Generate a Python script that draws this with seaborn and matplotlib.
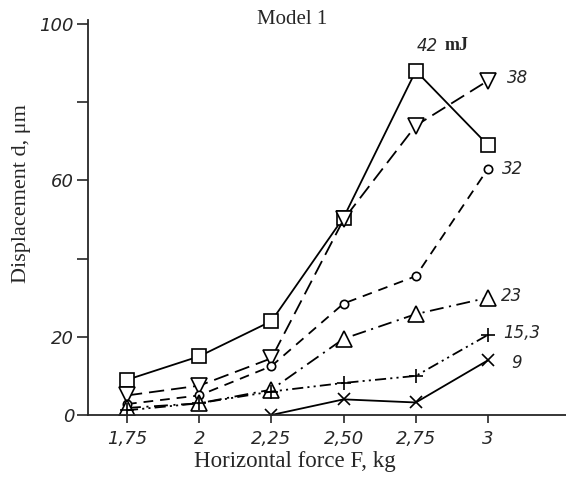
import matplotlib
matplotlib.use("Agg")
import matplotlib.pyplot as plt
import seaborn as sns
import pandas as pd

# ---- data ----
force = [1.75, 2.0, 2.25, 2.5, 2.75, 3.0]
xtick_labels = ["1,75", "2", "2,25", "2,50", "2,75", "3"]
yticks = [0, 20, 40, 60, 80, 100]
ytick_labels = ["0", "20", "", "60", "", "100"]

d_42 = [9.0, 15.0, 24.0, 50.5, 88.0, 69.0]
d_38 = [5.0, 7.5, 14.5, 50.0, 74.0, 85.5]
d_32 = [2.8, 5.0, 12.5, 28.5, 35.5, 63.0]
d_23 = [1.8, 3.0, 6.5, 19.5, 25.8, 30.0]
d_15 = [1.2, 3.0, 6.0, 8.2, 10.0, 20.5]
force_9 = [2.25, 2.5, 2.75, 3.0]
d_9 = [0.0, 4.0, 3.2, 14.0]

series_labels = ["42", "38", "32", "23", "15,3", "9"]

sns.set_style("ticks")
plt.rcParams["font.family"] = ["DejaVu Sans"]
plt.rcParams["lines.scale_dashes"] = False

fig = plt.figure(figsize=(5.66, 4.78), dpi=100)
ax = fig.add_axes([88 / 566, 1 - 415 / 478, 1 - 88 / 566, (415 - 20) / 478])

lw = 1.3
common = dict(color="black", linewidth=lw, markerfacecolor="white",
              markeredgecolor="black", markeredgewidth=1.2, ax=ax)

specs = [
    (force, d_42, "s", 10.5, "-"),
    (force, d_38, "v", 11, (0, (11, 5))),
    (force, d_32, "o", 6, (0, (7, 5))),
    (force, d_23, "^", 11, (0, (10, 4, 1.5, 4))),
    (force, d_15, "+", 10, (0, (8, 3, 1.5, 3, 1.5, 3))),
    (force_9, d_9, "x", 8, "-"),
]
for xs, ys, mk, ms, ls in specs:
    sns.lineplot(x=xs, y=ys, marker=mk, markersize=ms, linestyle=ls,
                 sort=False, **common)

ax.set_xlim(1.615, 3.27)
ax.set_ylim(0, 101)
ax.set_xticks(force)
ax.set_xticklabels(xtick_labels)
ax.set_yticks(yticks)
ax.set_yticklabels(ytick_labels)
for lab in ax.get_xticklabels() + ax.get_yticklabels():
    lab.set_fontstyle("italic")
    lab.set_fontsize(13)
ax.tick_params(axis="x", direction="out", length=6, width=1.2, pad=5)
ax.tick_params(axis="y", direction="out", length=8, width=1.2, pad=2)
sns.despine(ax=ax)
for sp in ("left", "bottom"):
    ax.spines[sp].set_linewidth(1.3)

serif = ["Liberation Serif", "DejaVu Serif"]
ax.set_xlabel("Horizontal force F, kg", family=serif, fontsize=16.5,
              va="center")
ax.xaxis.set_label_coords((295 - 88) / (566 - 88), (415 - 462) / (415 - 20))
ax.set_ylabel("Displacement d, \u03bcm", family=serif, fontsize=16,
              va="center")
ax.yaxis.set_label_coords((22 - 88) / (566 - 88), (415 - 194) / (415 - 20))
fig.text(292 / 566, 1 - 19 / 478, "Model 1", family=serif, fontsize=15,
         ha="center", va="center")

# series labels
lab_kw = dict(textcoords="offset points", fontsize=12, fontstyle="italic",
              va="center", ha="left")
ax.annotate("42", (force[4], d_42[4]), xytext=(0.7, 18), **lab_kw)
ax.annotate("mJ", (force[4], d_42[4]), xytext=(21, 18), textcoords="offset points",
            fontsize=13, family=serif, fontweight="bold", va="center", ha="left")
ax.annotate(series_labels[1], (force[-1], d_38[-1]), xytext=(14, 2), **lab_kw)
ax.annotate(series_labels[2], (force[-1], d_32[-1]), xytext=(10, 0), **lab_kw)
ax.annotate(series_labels[3], (force[-1], d_23[-1]), xytext=(9.5, 1.5), **lab_kw)
ax.annotate(series_labels[4], (force[-1], d_15[-1]), xytext=(11, 1), **lab_kw)
ax.annotate(series_labels[5], (force_9[-1], d_9[-1]), xytext=(16.5, -2), **lab_kw)

fig.savefig("out.png", dpi=100)
